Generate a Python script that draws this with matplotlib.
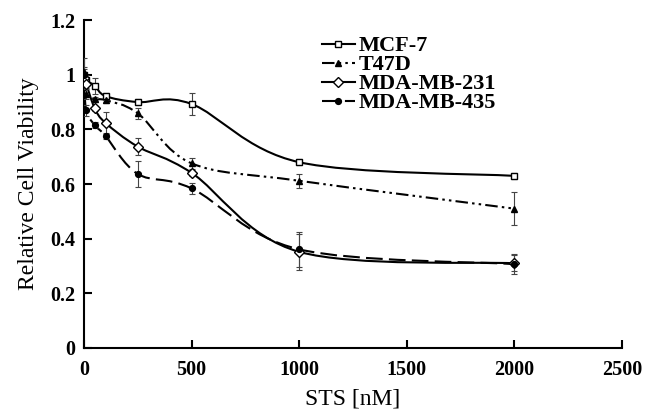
import numpy as np
import matplotlib.pyplot as plt
from matplotlib.path import Path
from matplotlib.patches import PathPatch
from matplotlib.lines import Line2D

plt.rcParams["font.family"] = ["Liberation Serif", "DejaVu Serif"]

# STS concentration [nM]
sts = [0, 10, 50, 100, 250, 500, 1000, 2000]

mcf7 = [1.00, 0.98, 0.96, 0.922, 0.900, 0.893, 0.680, 0.630]
mcf7_err = [0.02, 0.02, 0.03, 0.01, 0.01, 0.04, 0.01, 0.01]

t47d = [1.01, 0.93, 0.91, 0.907, 0.859, 0.676, 0.612, 0.510]
t47d_err = [0.05, 0.02, 0.01, 0.01, 0.02, 0.02, 0.025, 0.06]

mda231 = [0.99, 0.968, 0.877, 0.824, 0.737, 0.641, 0.352, 0.310]
mda231_err = [0.02, 0.02, 0.01, 0.04, 0.03, 0.01, 0.065, 0.03]

mda435 = [1.00, 0.870, 0.816, 0.776, 0.637, 0.584, 0.361, 0.307]
mda435_err = [0.03, 0.02, 0.01, 0.01, 0.047, 0.02, 0.065, 0.037]

x_ticks = [0, 500, 1000, 1500, 2000, 2500]
y_ticks = [0, 0.2, 0.4, 0.6, 0.8, 1.0, 1.2]
y_ticklabels = ["0", "0.2", "0.4", "0.6", "0.8", "1", "1.2"]


def smooth_path(x, y):
    """Excel-style smoothed line as cubic Bezier segments."""
    pts = np.column_stack([x, y]).astype(float)
    n = len(pts)
    verts = [pts[0]]
    codes = [Path.MOVETO]
    for i in range(n - 1):
        p0 = pts[i - 1] if i > 0 else pts[i]
        p1 = pts[i]
        p2 = pts[i + 1]
        p3 = pts[i + 2] if i + 2 < n else pts[i + 1]
        verts += [p1 + (p2 - p0) / 6, p2 - (p3 - p1) / 6, p2]
        codes += [Path.CURVE4] * 3
    return Path(verts, codes)


series = [
    ("MCF-7", mcf7, mcf7_err, "s", 4.8, "white", "-"),
    ("T47D", t47d, t47d_err, "^", 5.0, "black", (0, (6, 2, 1.2, 2, 1.2, 2))),
    ("MDA-MB-231", mda231, mda231_err, "D", 4.6, "white", "-"),
    ("MDA-MB-435", mda435, mda435_err, "o", 4.2, "black", (0, (8, 3))),
]

fig = plt.figure(figsize=(6.48, 4.11), dpi=100)
ax = fig.add_axes([0.1296, 0.1533, 0.8304, 0.7977])

handles = []
for name, vals, err, mk, ms, fc, ls in series:
    ax.add_patch(PathPatch(smooth_path(sts, vals), facecolor="none",
                           edgecolor="black", lw=1.5, linestyle=ls, zorder=2))
    ax.errorbar(sts, vals, yerr=err, fmt="none", ecolor="#444444",
                elinewidth=0.8, capsize=2.5, capthick=0.8, zorder=3)
    ax.plot(sts, vals, linestyle="none", marker=mk, ms=ms, mfc=fc,
            mec="black", mew=1.0, zorder=4)
    handles.append(Line2D([], [], color="black", lw=1.5, linestyle=ls,
                          marker=mk, ms=ms, mfc=fc, mec="black", label=name))

ax.set_xlim(0, 2500)
ax.set_ylim(0, 1.2)
ax.set_xticks(x_ticks)
ax.set_yticks(y_ticks)
ax.set_yticklabels(y_ticklabels)
ax.tick_params(direction="in", length=6, width=1.5, labelsize=14.5)
ax.tick_params(axis="x", pad=9)
ax.tick_params(axis="y", pad=6)
for lab in ax.get_xticklabels() + ax.get_yticklabels():
    lab.set_fontweight("bold")

for side in ["top", "right"]:
    ax.spines[side].set_visible(False)
for side in ["left", "bottom"]:
    ax.spines[side].set_linewidth(1.5)

ax.set_xlabel("STS [nM]", fontsize=17, labelpad=6)
ax.set_ylabel("Relative Cell Viability", fontsize=17, labelpad=8)

ax.legend(handles=handles, loc="upper left", bbox_to_anchor=(0.425, 0.979),
          frameon=False, prop={"weight": "bold", "size": 16},
          handlelength=1.5, handletextpad=0.18, labelspacing=-0.07,
          borderaxespad=0, numpoints=1)

fig.savefig("out.png", dpi=100)
